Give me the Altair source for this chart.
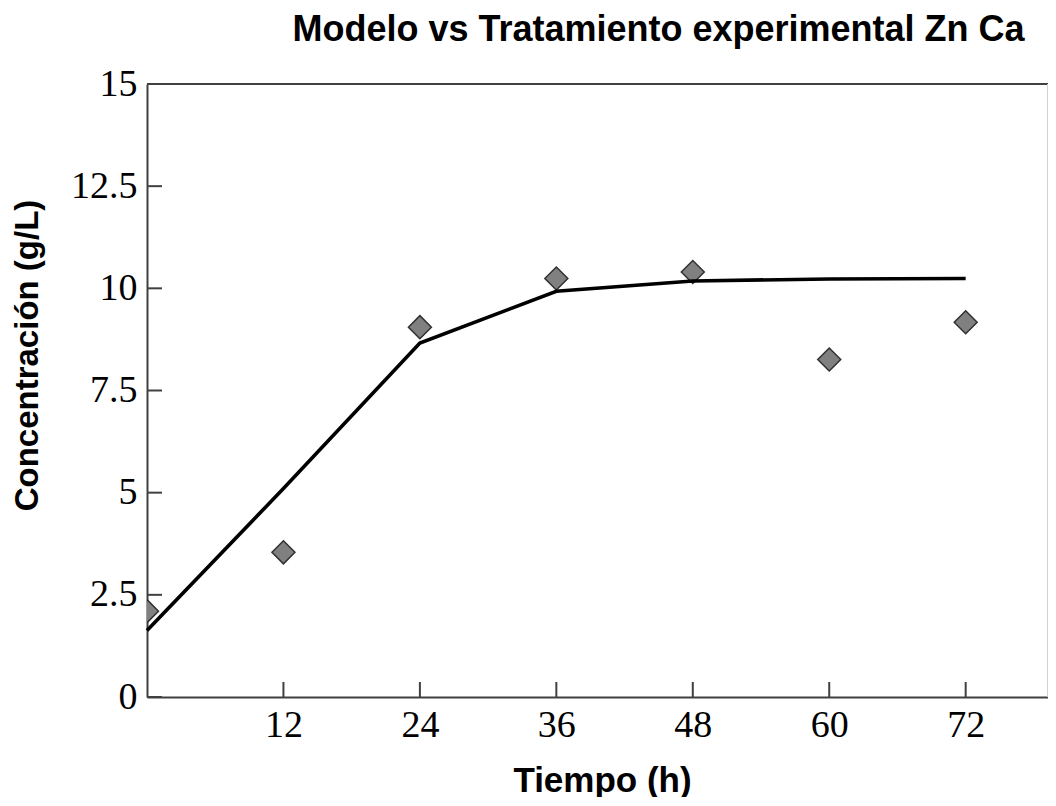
import altair as alt
import pandas as pd

tiempo = [0, 12, 24, 36, 48, 60, 72]
experimental = [2.1, 3.54, 9.05, 10.24, 10.4, 8.26, 9.17]
modelo = [1.63, 5.1, 8.66, 9.93, 10.18, 10.23, 10.24]
x_ticks = [12, 24, 36, 48, 60, 72]
y_ticks = [0, 2.5, 5, 7.5, 10, 12.5, 15]
x_max = 79.24

W, H = 901, 613
TICK = 15
AXC = "#404040"

df = pd.DataFrame({"t": tiempo, "exp": experimental, "mod": modelo})
xt_df = pd.DataFrame({"v": x_ticks})
yt_df = pd.DataFrame({"v": y_ticks})

xscale = alt.Scale(domain=[0, x_max], nice=False, zero=False)
yscale = alt.Scale(domain=[0, max(y_ticks)], nice=False, zero=False)

x_axis = alt.Axis(
    values=x_ticks, title="Tiempo (h)", ticks=False, grid=False,
    labelFont="Liberation Serif", labelFontSize=38, labelColor="black",
    labelPadding=9, domain=True, domainColor=AXC, domainWidth=2,
    titleFont="Liberation Sans", titleFontSize=35, titleFontWeight="bold",
    titleColor="black", titleX=455, titleY=94, titleBaseline="alphabetic",
    titleAlign="center",
)
y_axis = alt.Axis(
    values=y_ticks, title="Concentración (g/L)", ticks=False, grid=False,
    labelFont="Liberation Serif", labelFontSize=38, labelColor="black",
    labelPadding=10, labelExpr="'' + datum.value", domain=True,
    domainColor=AXC, domainWidth=2,
    titleFont="Liberation Sans", titleFontSize=33, titleFontWeight="bold",
    titleColor="black", titleX=-120, titleY=271, titleAngle=270,
    titleBaseline="middle", titleAlign="center",
)

points = alt.Chart(df).mark_point(
    shape="diamond", filled=True, size=529, fill="#808080", fillOpacity=1,
    stroke="#303030", strokeWidth=1.5, opacity=1, clip=True,
).encode(
    x=alt.X("t:Q", scale=xscale, axis=x_axis),
    y=alt.Y("exp:Q", scale=yscale, axis=y_axis),
)

line = alt.Chart(df).mark_line(color="black", strokeWidth=3.6).encode(
    x=alt.X("t:Q", scale=xscale),
    y=alt.Y("mod:Q", scale=yscale),
)

xt = alt.Chart(xt_df).mark_rule(color=AXC, strokeWidth=2).encode(
    x=alt.X("v:Q", scale=xscale),
    y=alt.value(H), y2=alt.value(H - TICK),
)
yt = alt.Chart(yt_df).mark_rule(color=AXC, strokeWidth=2).encode(
    y=alt.Y("v:Q", scale=yscale),
    x=alt.value(0), x2=alt.value(TICK),
)
top_border = alt.Chart(yt_df).mark_rule(color=AXC, strokeWidth=2).encode(
    y=alt.Y("max(v):Q", scale=yscale),
    x=alt.value(0), x2=alt.value(W),
)
right_border = alt.Chart(xt_df).mark_rule(color="#d0d0d0", strokeWidth=1).encode(
    x=alt.datum(x_max, scale=xscale),
    y=alt.value(0), y2=alt.value(H),
)

chart = alt.layer(points, line, xt, yt, top_border, right_border).properties(
    width=W, height=H,
    autosize=alt.AutoSizeParams(type="none"),
    padding={"left": 139, "top": 76, "right": 0, "bottom": 100},
    title=alt.TitleParams(
        text="Modelo vs Tratamiento experimental Zn Ca",
        font="Liberation Sans", fontSize=36, fontWeight="bold",
        color="black", anchor="middle", dx=61, dy=32, offset=20,
        baseline="alphabetic",
    ),
).configure(background="white").configure_view(stroke=None)

chart.save("out.html", embed_options={"renderer": "svg", "actions": False})
